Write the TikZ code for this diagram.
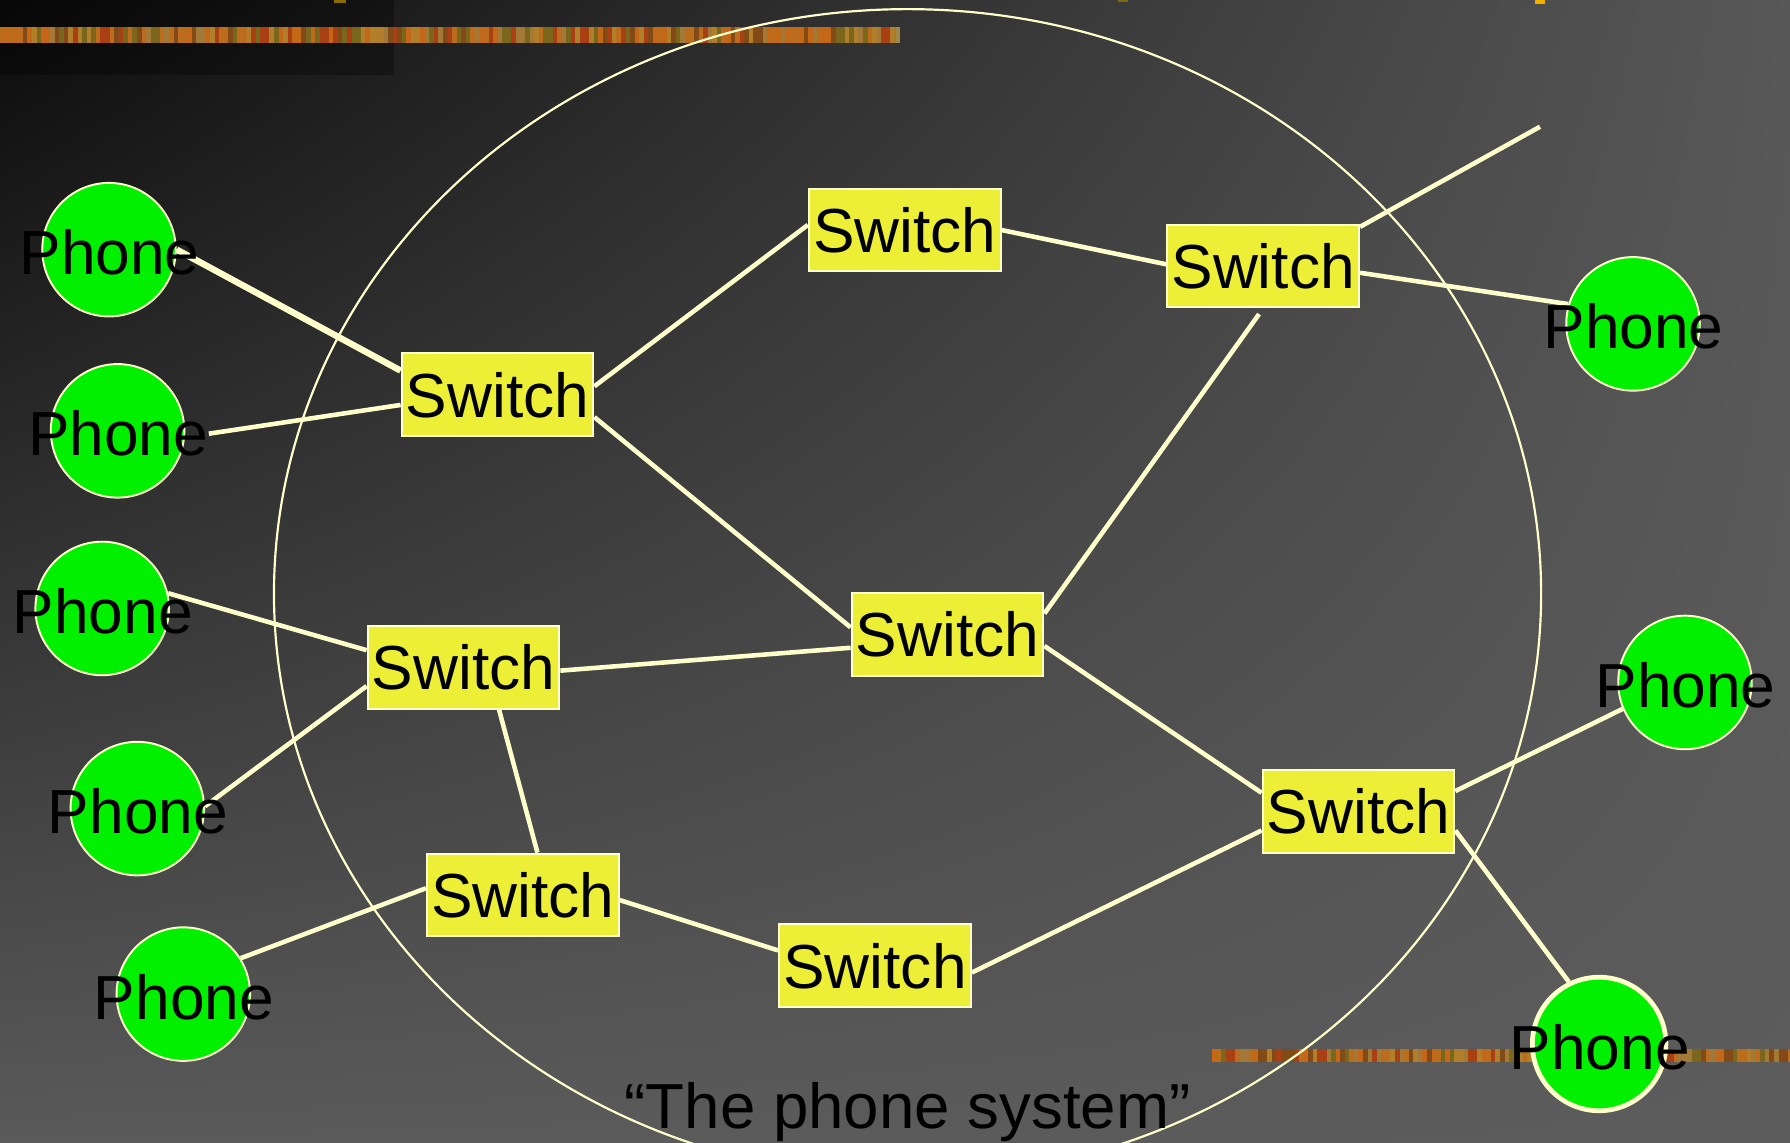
\documentclass[tikz,border=0pt]{standalone}
\usepackage{fontspec}
\setmainfont{Liberation Sans}
\usetikzlibrary{calc,shadings}

\definecolor{cream}{HTML}{FFFFCC}
\definecolor{swyellow}{HTML}{ECEF35}
\definecolor{phgreen}{HTML}{00F000}
\definecolor{bgUL}{HTML}{0B0B0B}
\definecolor{bgUR}{HTML}{585858}
\definecolor{bgLL}{HTML}{5A5A5A}
\definecolor{bgLR}{HTML}{5C5C5C}
% palette of the textured ribbons
\definecolor{bar1}{HTML}{C8741C}
\definecolor{bar2}{HTML}{A8280C}
\definecolor{bar3}{HTML}{5E6A1A}
\definecolor{bar4}{HTML}{B89030}
\definecolor{bar5}{HTML}{D86A10}
\definecolor{bar6}{HTML}{6A3A10}
\definecolor{bar7}{HTML}{A08848}
\definecolor{barglaze}{HTML}{A86420}

\pgfdeclarelayer{back}
\pgfdeclarelayer{wires}
\pgfsetlayers{back,wires,main}

\begin{document}
\begin{tikzpicture}[x=0.011416cm, y=-0.011416cm,
  nodefont/.style={font=\fontsize{17.7pt}{20pt}\selectfont},
  switchbox/.style={draw=cream, line width=0.55pt, fill=swyellow,
    minimum width=1.918cm, minimum height=0.828cm, inner sep=0pt, nodefont},
  phone/.style={circle, draw=cream, line width=0.55pt, fill=phgreen,
    minimum size=1.335cm, inner sep=0pt},
  phonelabel/.style={inner sep=0pt, nodefont},
  wire/.style={draw=cream, line width=1.3pt},
  thickwire/.style={draw=cream, line width=1.82pt},
]
\useasboundingbox (0,0) rectangle (1568,1001);

% ---------- switches ----------
\node[switchbox] (s1) at (435.8,345.8) {Switch};
\node[switchbox] (s2) at (792.5,201.5) {Switch};
\node[switchbox] (s3) at (1106.5,233) {Switch};
\node[switchbox] (s4) at (830,555.5) {Switch};
\node[switchbox] (s5) at (406,584.5) {Switch};
\node[switchbox] (s6) at (458,784) {Switch};
\node[switchbox] (s7) at (766.5,846) {Switch};
\node[switchbox] (s8) at (1190,711) {Switch};

% ---------- phones ----------
\node[phone] (p1) at (95.5,218.7) {};
\node[phone] (p2) at (103,377.4) {};
\node[phone] (p3) at (89.5,533) {};
\node[phone] (p4) at (120.3,708.3) {};
\node[phone] (p5) at (160.6,870.8) {};
\node[phone] (p6) at (1430.5,283.7) {};
\node[phone] (p7) at (1476,597.8) {};
\node[phone, line width=1.35pt] (p8) at (1400.8,914.5) {};
\foreach \p in {p1,p2,p3,p4,p5,p6,p7,p8}
  \node[phonelabel] (\p t) at ($(\p)+(0.5,2.5)$) {Phone};

\coordinate (tail) at (1349,111);

% ---------- caption ----------
\node[anchor=base, inner sep=0pt, font=\fontsize{18.1pt}{21pt}\selectfont]
  (caption) at (795,988.4) {“The phone system”};

% ---------- backdrop ----------
\begin{pgfonlayer}{back}
  \begin{scope}
    \clip (0,0) rectangle (1568,1001);
    \shade[upper left=bgUL, upper right=bgUR, lower left=bgLL, lower right=bgLR]
      (0,0) rectangle (1568,1001);
    \fill[black, opacity=0.3] (0,0) rectangle (345,66);
    % textured ribbons: random coloured slivers under a warm glaze
    \pgfmathsetseed{42}
    \foreach \i in {0,...,196}{
      \pgfmathrandominteger{\k}{1}{7}
      \fill[bar\k] ({\i*4},23.5) rectangle ({\i*4+4.5},37.5);
    }
    \fill[barglaze, opacity=0.4] (0,23.5) rectangle (785,37.5);
    \foreach \i in {0,...,126}{
      \pgfmathrandominteger{\k}{1}{7}
      \fill[bar\k] ({1062+\i*4},919) rectangle ({1062+\i*4+4.5},930);
    }
    \fill[barglaze, opacity=0.4] (1062,919) rectangle (1568,930);
    % glyph fragments along the top edge
    \fill[fill={rgb,255:red,140;green,106;blue,8}] (293,0) rectangle (303,2.5);
    \fill[fill={rgb,255:red,126;green,108;blue,20}] (979,0) rectangle (988,1.8);
    \fill[fill={rgb,255:red,240;green,176;blue,0}] (1345,0) rectangle (1353,3.5);
    % boundary of the network
    \draw[cream, line width=0.62pt] (795,520) ellipse [x radius=555, y radius=512];
  \end{scope}
\end{pgfonlayer}

% ---------- links ----------
\begin{pgfonlayer}{wires}
  \draw[thickwire] (p1.east) -- (s1.166);
  \draw[wire] (p2t.east) -- (s1.186);
  \draw[wire] (s1.5) -- (s2.177);
  \draw[wire] (s1.347) -- (s4.176);
  \draw[wire] (s2.0) -- (s3.179);
  \draw[wire] (s3.356) -- (p6.163);
  \draw[wire] (s3.22) -- (tail);
  \draw[wire, shorten <=2pt] (s3.south) -- (s4.12);
  \draw[wire] (p3.13) -- (s5.170);
  \draw[wire] (p4.2) -- (s5.191);
  \draw[wire] (s5.358) -- (s4.188);
  \draw[wire] (s5.310) -- (s6.71);
  \draw[wire] (p5.32) -- (s6.176);
  \draw[wire] (s6.357) -- (s7.171);
  \draw[wire] (s7.356) -- (s8.191);
  \draw[wire] (s4.353) -- (s8.169);
  \draw[wire] (s8.12) -- (p7.203);
  \draw[wire] (s8.349) -- (p8.116);
\end{pgfonlayer}
\end{tikzpicture}
\end{document}
